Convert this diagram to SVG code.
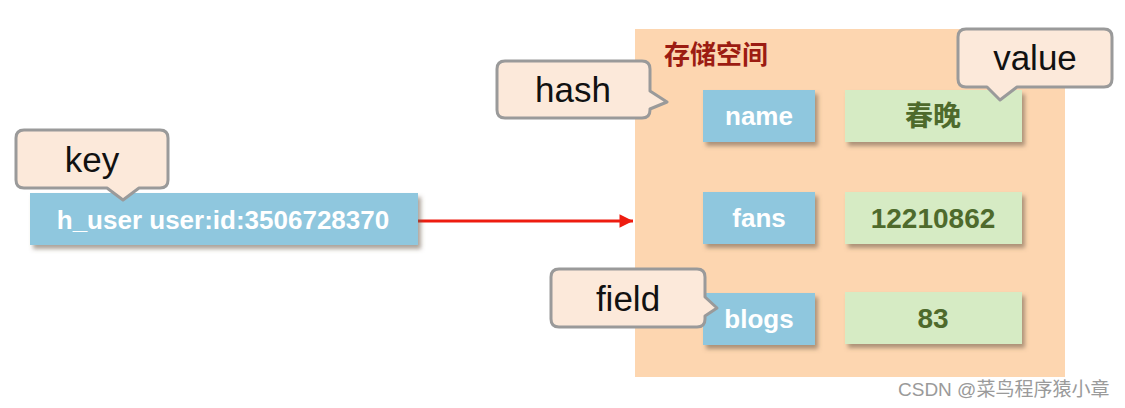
<svg xmlns="http://www.w3.org/2000/svg" width="1125" height="408" viewBox="0 0 1125 408">
<defs>
<filter id="sh" x="-10%" y="-20%" width="125%" height="160%">
<feDropShadow dx="3" dy="4" stdDeviation="2" flood-color="#6b5a48" flood-opacity="0.55"/>
</filter>
<marker id="arr" viewBox="0 0 10 10" refX="10" refY="5" markerWidth="5" markerHeight="4.5" markerUnits="strokeWidth" orient="auto">
<path d="M0,0 L10,5 L0,10 z" fill="#ee1c10"/>
</marker>
<style>
.blue{fill:#8fc7de;filter:url(#sh)}
.green{fill:#d6ebc4;filter:url(#sh)}
.bt{font-family:"Liberation Sans",Arial,sans-serif;font-weight:bold;font-size:26px;fill:#ffffff;text-anchor:middle}
.gt{font-family:"Liberation Sans","Noto Sans CJK SC",sans-serif;font-weight:bold;font-size:28px;fill:#4e6a2c;text-anchor:middle}
.bub{fill:#fce9da;stroke:#9a9a9a;stroke-width:3;stroke-linejoin:round}
.bubt{font-family:"Liberation Sans",Arial,sans-serif;font-size:35px;fill:#111;text-anchor:middle}
</style>
</defs>
<rect width="1125" height="408" fill="#ffffff"/>

<g id="storage">
<rect x="635" y="29" width="430" height="348" fill="#fdd6b0"/>
<text x="664" y="64" font-family="'Noto Sans CJK SC',sans-serif" font-weight="bold" font-size="26" fill="#9c1c12">存储空间</text>
</g>

<g id="connectors">
<line x1="418" y1="221" x2="633" y2="221" stroke="#ee1c10" stroke-width="3" marker-end="url(#arr)"/>
</g>

<g id="key-node">
<rect x="30" y="193" width="388" height="52" class="blue"/>
<text x="223" y="229" class="bt" font-size="27">h_user user:id:3506728370</text>
</g>

<g id="field-name">
<rect x="703" y="90" width="112" height="52" class="blue"/>
<text x="759" y="125" class="bt">name</text>
</g>
<g id="value-name">
<rect x="845" y="90" width="177" height="52" class="green"/>
<text x="933" y="126" class="gt">春晚</text>
</g>
<g id="field-fans">
<rect x="703" y="192" width="112" height="52" class="blue"/>
<text x="759" y="227" class="bt">fans</text>
</g>
<g id="value-fans">
<rect x="845" y="192" width="177" height="52" class="green"/>
<text x="933" y="228" class="gt">12210862</text>
</g>
<g id="field-blogs">
<rect x="703" y="293" width="112" height="52" class="blue"/>
<text x="759" y="328" class="bt">blogs</text>
</g>
<g id="value-blogs">
<rect x="845" y="292" width="177" height="52" class="green"/>
<text x="933" y="328" class="gt">83</text>
</g>

<g id="bubble-key">
<path class="bub" d="M24,130 H160 Q168,130 168,138 V180 Q168,188 160,188 H139 L123,200 L107,188 H24 Q16,188 16,180 V138 Q16,130 24,130 Z"/>
<text x="92" y="172" class="bubt">key</text>
</g>
<g id="bubble-hash">
<path class="bub" d="M505,61 H642 Q650,61 650,69 V91 L667,102 L650,109 V110 Q650,118 642,118 H505 Q497,118 497,110 V69 Q497,61 505,61 Z"/>
<text x="573" y="102" class="bubt">hash</text>
</g>
<g id="bubble-value">
<path class="bub" d="M966,29 H1104 Q1112,29 1112,37 V79 Q1112,87 1104,87 H1017 L1000,100 L987,87 H966 Q958,87 958,79 V37 Q958,29 966,29 Z"/>
<text x="1035" y="70" class="bubt">value</text>
</g>
<g id="bubble-field">
<path class="bub" d="M559,269 H697 Q705,269 705,277 V297 L717,308 L705,316 V319 Q705,327 697,327 H559 Q551,327 551,319 V277 Q551,269 559,269 Z"/>
<text x="628" y="311" class="bubt">field</text>
</g>

<text x="898" y="396" font-family="'Liberation Sans','Noto Sans CJK SC',sans-serif" font-size="19" fill="#9a9a9a">CSDN @菜鸟程序猿小章</text>
</svg>
